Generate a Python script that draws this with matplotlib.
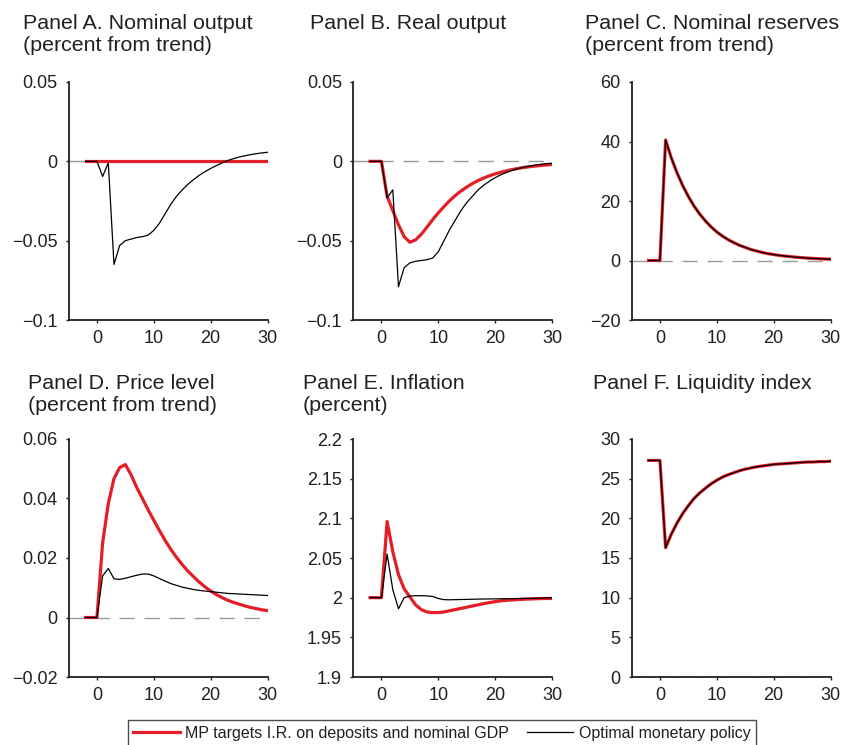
import matplotlib
matplotlib.use("Agg")
import matplotlib.pyplot as plt
from matplotlib.ticker import FuncFormatter

plt.rcParams['font.family'] = ['Liberation Sans', 'DejaVu Sans']

# Quarters relative to the shock
t = list(range(-2, 31))

# Panel A. Nominal output
nom_out_red = [0.0] * 33
nom_out_blk = [0, 0, 0, -0.0095, -0.001, -0.065, -0.053, -0.050, -0.049, -0.048, -0.0475,
               -0.0465, -0.0435, -0.039, -0.033, -0.027, -0.022, -0.018, -0.0145, -0.0115,
               -0.0088, -0.0065, -0.0045, -0.0027, -0.001, 0.0005, 0.0017, 0.0027, 0.0035,
               0.0042, 0.0048, 0.0053, 0.0057]

# Panel B. Real output
real_out_red = [0, 0, 0, -0.022, -0.031, -0.040, -0.0475, -0.051, -0.0495, -0.046, -0.0415,
                -0.0368, -0.0325, -0.0285, -0.0248, -0.0215, -0.0187, -0.0162, -0.014,
                -0.0121, -0.0105, -0.0091, -0.0079, -0.0069, -0.006, -0.0052, -0.0045,
                -0.0039, -0.0034, -0.003, -0.0026, -0.0023, -0.002]
real_out_blk = [0, 0, 0, -0.023, -0.018, -0.079, -0.067, -0.064, -0.063, -0.0625, -0.062,
                -0.061, -0.057, -0.050, -0.043, -0.037, -0.031, -0.026, -0.022, -0.018,
                -0.015, -0.0125, -0.0103, -0.0085, -0.007, -0.0057, -0.0046, -0.0037,
                -0.003, -0.0024, -0.0019, -0.0015, -0.0012]

# Panel C. Nominal reserves
reserves_red = [0, 0, 0, 40.5, 34.5, 29.5, 25.2, 21.5, 18.3, 15.6, 13.3, 11.3, 9.6, 8.2,
                7.0, 6.0, 5.1, 4.4, 3.7, 3.2, 2.7, 2.3, 2.0, 1.7, 1.5, 1.3, 1.1, 0.95,
                0.8, 0.7, 0.6, 0.5, 0.45]
reserves_blk = [0, 0, 0, 40.5, 34.5, 29.5, 25.2, 21.5, 18.3, 15.6, 13.3, 11.3, 9.6, 8.2,
                7.0, 6.0, 5.1, 4.4, 3.7, 3.2, 2.7, 2.3, 2.0, 1.7, 1.5, 1.3, 1.1, 0.95,
                0.8, 0.7, 0.6, 0.5, 0.45]

# Panel D. Price level
price_red = [0, 0, 0, 0.025, 0.0383, 0.0467, 0.0504, 0.0514, 0.048, 0.0437, 0.040, 0.0362,
             0.0327, 0.0292, 0.0259, 0.0229, 0.0202, 0.0178, 0.0156, 0.0137, 0.0119,
             0.0103, 0.0089, 0.0077, 0.0067, 0.0058, 0.0051, 0.0045, 0.0039, 0.0034,
             0.003, 0.0026, 0.0023]
price_blk = [0, 0, 0, 0.014, 0.0165, 0.013, 0.0128, 0.0132, 0.0137, 0.0142, 0.0146, 0.0146,
             0.014, 0.0131, 0.0122, 0.0114, 0.0108, 0.0102, 0.0098, 0.0094, 0.0091,
             0.0089, 0.0087, 0.0085, 0.0083, 0.0081, 0.008, 0.0079, 0.0078, 0.0077,
             0.0076, 0.0075, 0.0074]

# Panel E. Inflation
infl_red = [2, 2, 2, 2.096, 2.058, 2.029, 2.011, 2.001, 1.991, 1.985, 1.982, 1.9812, 1.9812,
            1.982, 1.9835, 1.985, 1.9865, 1.988, 1.9895, 1.991, 1.9925, 1.9938, 1.995,
            1.996, 1.9966, 1.9972, 1.9976, 1.998, 1.9983, 1.9986, 1.9988, 1.999, 1.999]
infl_blk = [2, 2, 2, 2.055, 2.010, 1.986, 2.000, 2.002, 2.0025, 2.0025, 2.0022, 2.0015,
            1.999, 1.9975, 1.9973, 1.9975, 1.9977, 1.9978, 1.998, 1.9982, 1.9983, 1.9984,
            1.9985, 1.9986, 1.9987, 1.9988, 1.9989, 1.999, 1.9991, 1.9993, 1.9995,
            1.9997, 2.0]

# Panel F. Liquidity index
liq_red = [27.3, 27.3, 27.3, 16.3, 18.0, 19.4, 20.6, 21.6, 22.5, 23.2, 23.8, 24.35, 24.8,
           25.2, 25.5, 25.75, 26.0, 26.2, 26.35, 26.5, 26.6, 26.7, 26.8, 26.85, 26.9,
           26.95, 27.0, 27.05, 27.1, 27.1, 27.15, 27.15, 27.2]
liq_blk = [27.3, 27.3, 27.3, 16.3, 18.0, 19.4, 20.6, 21.6, 22.5, 23.2, 23.8, 24.35, 24.8,
           25.2, 25.5, 25.75, 26.0, 26.2, 26.35, 26.5, 26.6, 26.7, 26.8, 26.85, 26.9,
           26.95, 27.0, 27.05, 27.1, 27.1, 27.15, 27.15, 27.2]

titles = ["Panel A. Nominal output\n(percent from trend)",
          "Panel B. Real output",
          "Panel C. Nominal reserves\n(percent from trend)",
          "Panel D. Price level\n(percent from trend)",
          "Panel E. Inflation\n(percent)",
          "Panel F. Liquidity index"]
series = [(nom_out_red, nom_out_blk), (real_out_red, real_out_blk),
          (reserves_red, reserves_blk), (price_red, price_blk),
          (infl_red, infl_blk), (liq_red, liq_blk)]
ylims = [(-0.1, 0.05), (-0.1, 0.05), (-20, 60), (-0.02, 0.06), (1.9, 2.2), (0, 30)]
yticks = [[-0.1, -0.05, 0, 0.05], [-0.1, -0.05, 0, 0.05], [-20, 0, 20, 40, 60],
          [-0.02, 0, 0.02, 0.04, 0.06], [1.9, 1.95, 2.0, 2.05, 2.1, 2.15, 2.2],
          [0, 5, 10, 15, 20, 25, 30]]
baselines = [0, 0, 0, 0, None, 0]

W, H = 844, 745
fig = plt.figure(figsize=(W / 100, H / 100), dpi=100)

col_left = [68.5, 353, 631.5]
row_top = [82, 439]
title_x = [[23, 310, 585], [28, 303, 593]]
title_y = [14, 374]
ax_w, ax_h = 199, 238

red = '#e41e26'
ink = '#231f20'
fmt = FuncFormatter(lambda v, _: f'{v:g}'.replace('-', '\u2212'))

for i in range(6):
    r, c = divmod(i, 3)
    ax = fig.add_axes([col_left[c] / W, 1 - (row_top[r] + ax_h) / H, ax_w / W, ax_h / H])
    red_vals, blk_vals = series[i]
    if baselines[i] is not None:
        ax.axhline(baselines[i], color='#9a9a9a', lw=1.0, ls=(0, (11, 7)), zorder=1)
    ax.plot(t, red_vals, color=red, lw=2.3, zorder=2, solid_joinstyle='round')
    ax.plot(t, blk_vals, color='black', lw=0.9, zorder=3)
    ax.set_xlim(-5, 30)
    ax.set_ylim(*ylims[i])
    ax.set_xticks([0, 10, 20, 30])
    ax.set_yticks(yticks[i])
    ax.yaxis.set_major_formatter(fmt)
    for s in ['top', 'right']:
        ax.spines[s].set_visible(False)
    for s in ['left', 'bottom']:
        ax.spines[s].set_linewidth(1.3)
        ax.spines[s].set_color(ink)
    ax.tick_params(length=2, width=1, colors=ink, labelsize=13, pad=5)
    ax.tick_params(axis='y', pad=6)
    fig.text(title_x[r][c] / W, 1 - title_y[r] / H, titles[i], ha='left', va='top',
             fontsize=15.4, color=ink, linespacing=1.2)

h_red, = plt.plot([], [], color=red, lw=2.3)
h_blk, = plt.plot([], [], color='black', lw=0.9)
leg = fig.legend([h_red, h_blk],
                 ["MP targets I.R. on deposits and nominal GDP", "Optimal monetary policy"],
                 loc='upper center', bbox_to_anchor=(442 / W, 1 - 720 / H), ncol=2,
                 fontsize=11.5, frameon=True, fancybox=False, handlelength=2.9,
                 handletextpad=0.35, columnspacing=1.1, borderpad=0.35, borderaxespad=0)
leg.get_frame().set_edgecolor(ink)
leg.get_frame().set_linewidth(1.0)
for txt in leg.get_texts():
    txt.set_color(ink)

fig.savefig('out.png', dpi=100)
